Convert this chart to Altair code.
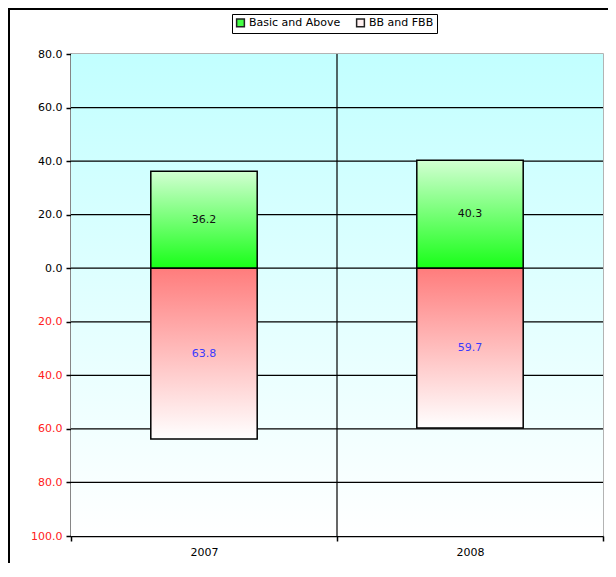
import altair as alt
import pandas as pd

# ---- data ----
years = ["2007", "2008"]
basic_above = [36.2, 40.3]
bb_fbb = [63.8, 59.7]
series = ["Basic and Above", "BB and FBB"]
grid_values = [60, 40, 20, 0, -20, -40, -60, -80]
y_ticks = [80, 60, 40, 20, 0, -20, -40, -60, -80, -100]

df = pd.DataFrame({"year": years, "basic": basic_above, "bb": bb_fbb})
df["neg"] = -df["bb"]
df["zero"] = 0.0
df["basic_mid"] = df["basic"] / 2
df["neg_mid"] = df["neg"] / 2
df["basic_lbl"] = [f"{v:.1f}" for v in basic_above]
df["bb_lbl"] = [f"{v:.1f}" for v in bb_fbb]

FONT = "DejaVu Sans"
FS = 11

xscale = alt.Scale(domain=years, paddingInner=0, paddingOuter=0)
yscale = alt.Scale(domain=[-100, 80], nice=False, zero=False)

xaxis = alt.Axis(title=None, labelAngle=0, tickBand="extent", grid=False,
                 labelFont=FONT, labelFontSize=FS, labelColor="black",
                 labelPadding=5, tickSize=5, tickColor="black", tickWidth=1.5,
                 domainColor="black", domainWidth=1.5)
yaxis = alt.Axis(title=None, values=y_ticks, grid=False,
                 labelExpr="format(abs(datum.value), '.1f')",
                 labelColor=alt.condition("datum.value < 0", alt.value("#ff2020"), alt.value("black")),
                 labelFont=FONT, labelFontSize=FS, labelPadding=4,
                 tickSize=5, tickColor="black", tickWidth=1.5,
                 domainColor="black", domainWidth=1.5)

X = alt.X("year:N", scale=xscale, axis=xaxis)

bg_grad = alt.LinearGradient(gradient="linear", x1=0, x2=0, y1=0, y2=1,
                             stops=[alt.GradientStop(color="#c2ffff", offset=0),
                                    alt.GradientStop(color="#ffffff", offset=1)])
green_grad = alt.LinearGradient(gradient="linear", x1=0, x2=0, y1=0, y2=1,
                                stops=[alt.GradientStop(color="#d2ffd2", offset=0),
                                       alt.GradientStop(color="#18ff18", offset=1)])
red_grad = alt.LinearGradient(gradient="linear", x1=0, x2=0, y1=0, y2=1,
                              stops=[alt.GradientStop(color="#ff7c7c", offset=0),
                                     alt.GradientStop(color="#ffffff", offset=1)])

bg = alt.Chart(pd.DataFrame({"top": [y_ticks[0]], "bottom": [y_ticks[-1]]})).mark_rect(
    fill=bg_grad).encode(
    y=alt.Y("top:Q", scale=yscale, axis=yaxis), y2="bottom:Q")

hgrid = alt.Chart(pd.DataFrame({"v": grid_values})).mark_rule(
    color="black", strokeWidth=1.2).encode(y=alt.Y("v:Q", scale=yscale, axis=yaxis))

vgrid = alt.Chart(pd.DataFrame({"year": years[:-1]})).mark_rule(
    color="black", strokeWidth=1.2).encode(
    x=alt.X("year:N", scale=xscale, axis=xaxis, bandPosition=1))

pos = alt.Chart(df).mark_bar(fill=green_grad, stroke="black", strokeWidth=1.5,
                             width=alt.RelativeBandSize(0.4)).encode(
    x=X, y=alt.Y("basic:Q", scale=yscale, axis=yaxis), y2="zero:Q")

neg = alt.Chart(df).mark_bar(fill=red_grad, stroke="black", strokeWidth=1.5,
                             width=alt.RelativeBandSize(0.4)).encode(
    x=X, y=alt.Y("zero:Q", scale=yscale, axis=yaxis), y2="neg:Q")

pos_txt = alt.Chart(df).mark_text(font=FONT, fontSize=FS, color="#111111").encode(
    x=X, y=alt.Y("basic_mid:Q", scale=yscale, axis=yaxis), text="basic_lbl:N")
neg_txt = alt.Chart(df).mark_text(font=FONT, fontSize=FS, color="#3a3aff").encode(
    x=X, y=alt.Y("neg_mid:Q", scale=yscale, axis=yaxis), text="bb_lbl:N")

leg = alt.Chart(pd.DataFrame({"series": series, "year": years})).mark_point(
    shape="square", filled=True, opacity=0).encode(
    x=X,
    fill=alt.Fill("series:N", scale=alt.Scale(domain=series, range=["#44ff44", "#fff0f0"]),
                  legend=alt.Legend(title=None, orient="none", legendX=161, legendY=-40,
                                    direction="horizontal", strokeColor="black",
                                    padding=3, labelFont=FONT, labelFontSize=FS,
                                    labelColor="black", symbolType="square",
                                    symbolSize=60, symbolStrokeColor="#222222",
                                    symbolStrokeWidth=1.5, columnPadding=12,
                                    labelOffset=3)))

frame = alt.Chart(pd.DataFrame({"k": [0]})).mark_rect(
    filled=False, stroke="black", strokeWidth=2).encode(
    x=alt.value(-62), x2=alt.value(700), y=alt.value(-45), y2=alt.value(700))

chart = alt.layer(bg, hgrid, vgrid, pos, neg, pos_txt, neg_txt, leg, frame).properties(
    width=532, height=482,
    padding={"left": 63, "top": 46, "right": 5, "bottom": 27},
    autosize=alt.AutoSizeParams(type="none"),
    background="white",
).configure_view(stroke="#9a9a9a", strokeWidth=1.5)

chart.save("out.html", embed_options={"renderer": "svg", "actions": False})
